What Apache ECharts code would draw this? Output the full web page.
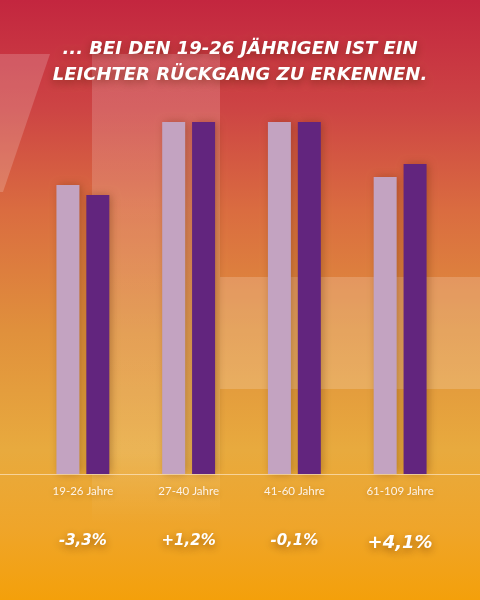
<!DOCTYPE html>
<html>
<head>
<meta charset="utf-8">
<script src="https://cdn.jsdelivr.net/npm/echarts@6/dist/echarts.min.js"></script>
<style>
html,body{margin:0;padding:0;width:480px;height:600px;overflow:hidden;}
#c{width:480px;height:600px;}
</style>
</head>
<body>
<div id="c"></div>
<script>
const categories = ['19-26 Jahre', '27-40 Jahre', '41-60 Jahre', '61-109 Jahre'];
const previousValues = [289, 352, 352, 297];
const currentValues = [279, 352, 352, 310];
const changeLabels = ['-3,3%', '+1,2%', '-0,1%', '+4,1%'];
const titleText = '... BEI DEN 19-26 JÄHRIGEN IST EIN\nLEICHTER RÜCKGANG ZU ERKENNEN.';

const chart = echarts.init(document.getElementById('c'));
const shadowText = {
  textShadowColor: 'rgba(80,30,0,0.55)',
  textShadowBlur: 8,
  textShadowOffsetY: 3
};
chart.setOption({
  animation: false,
  title: {
    text: titleText,
    left: 'center',
    top: 31,
    textStyle: Object.assign({
      color: '#ffffff',
      fontFamily: 'DejaVu Sans',
      fontWeight: 'bold',
      fontStyle: 'italic',
      fontSize: 18,
      lineHeight: 26
    }, shadowText)
  },
  graphic: [
    {
      type: 'rect', z: -100, silent: true,
      shape: { x: 0, y: 0, width: 480, height: 600 },
      style: {
        fill: new echarts.graphic.LinearGradient(0, 0, 0, 1, [
          { offset: 0, color: '#c3263f' },
          { offset: 0.18, color: '#cd4444' },
          { offset: 0.35, color: '#da6c40' },
          { offset: 0.55, color: '#e0903c' },
          { offset: 0.75, color: '#e8aa3e' },
          { offset: 0.88, color: '#efa52a' },
          { offset: 1, color: '#f4a00a' }
        ])
      }
    },
    {
      type: 'rect', z: -90, silent: true,
      shape: { x: 92, y: 54, width: 128, height: 470 },
      style: {
        fill: new echarts.graphic.LinearGradient(0, 0, 0, 1, [
          { offset: 0, color: 'rgba(255,255,255,0.17)' },
          { offset: 0.85, color: 'rgba(255,255,255,0.12)' },
          { offset: 1, color: 'rgba(255,255,255,0)' }
        ])
      }
    },
    {
      type: 'rect', z: -90, silent: true,
      shape: { x: 220, y: 277, width: 260, height: 112 },
      style: { fill: 'rgba(255,255,255,0.18)' }
    },
    {
      type: 'polygon', z: -90, silent: true,
      shape: { points: [[0, 54], [50, 54], [3, 192], [0, 192]] },
      style: { fill: 'rgba(255,255,255,0.18)' }
    },
    {
      type: 'line', z: 50, silent: true,
      shape: { x1: 0, y1: 474.5, x2: 480, y2: 474.5 },
      style: { stroke: 'rgba(255,240,220,0.6)', lineWidth: 1 }
    }
  ],
  grid: { left: 30, right: 27, top: 122, bottom: 126 },
  xAxis: [
    {
      type: 'category',
      data: categories,
      axisLine: { show: false },
      axisTick: { show: false },
      axisLabel: {
        color: '#fdf3e6',
        fontFamily: 'Lato',
        fontSize: 11.5,
        margin: 11,
        textShadowColor: 'rgba(120,60,0,0.4)',
        textShadowBlur: 6,
        textShadowOffsetY: 2
      }
    },
    {
      type: 'category',
      position: 'bottom',
      data: changeLabels,
      axisLine: { show: false },
      axisTick: { show: false },
      axisLabel: {
        margin: 60,
        formatter: function (v, i) { return i === 3 ? '{big|' + v + '}' : '{n|' + v + '}'; },
        rich: {
          n: Object.assign({ color: '#ffffff', fontFamily: 'DejaVu Sans', fontWeight: 'bold', fontStyle: 'italic', fontSize: 15 }, shadowText),
          big: Object.assign({ color: '#ffffff', fontFamily: 'DejaVu Sans', fontWeight: 'bold', fontStyle: 'italic', fontSize: 18 }, shadowText)
        }
      }
    }
  ],
  yAxis: {
    type: 'value', min: 0, max: 352, show: false
  },
  series: [
    {
      type: 'bar', data: previousValues, barWidth: 23, barGap: '30%',
      itemStyle: { color: '#c3a3c1', shadowColor: 'rgba(90,40,0,0.35)', shadowBlur: 8, shadowOffsetX: 2 }
    },
    {
      type: 'bar', data: currentValues, barWidth: 23, barGap: '30%',
      itemStyle: { color: '#62257e', shadowColor: 'rgba(90,40,0,0.35)', shadowBlur: 8, shadowOffsetX: 2 }
    }
  ]
});
</script>
</body>
</html>
